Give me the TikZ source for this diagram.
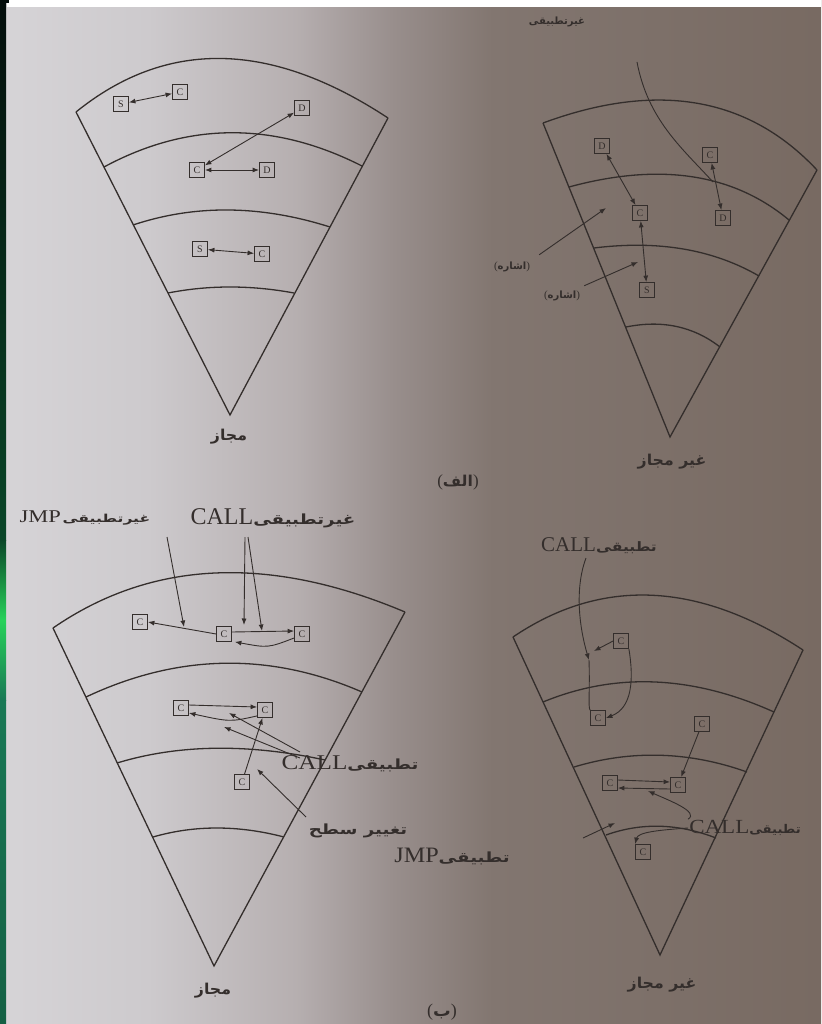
\documentclass[tikz,border=0pt]{standalone}
\usepackage{fontspec}
\usepackage{graphicx}
\usetikzlibrary{arrows.meta,calc}
\TeXXeTstate=1
\newfontfamily\arfont[Script=Arabic]{DejaVu Sans}
\newfontfamily\latfont{Liberation Serif}
% Arabic text at a given size and horizontal stretch
\newcommand\ar[3]{\scalebox{#2}[1]{\arfont\bfseries\fontsize{#1}{#1}\selectfont #3}}
% Latin text at a given size and horizontal stretch
\newcommand\lt[3]{\scalebox{#2}[1]{\latfont\fontsize{#1}{#1}\selectfont #3}}
% ring boundary: quadratic curve from #1 to #3 with control point #2
\newcommand\qarc[3]{\draw[fan] (#1) .. controls ($(#1)!0.6667!(#2)$) and ($(#3)!0.6667!(#2)$) .. (#3);}
\definecolor{ink}{RGB}{52,46,44}
\definecolor{pgA}{RGB}{214,212,215}
\definecolor{pgB}{RGB}{205,202,205}
\definecolor{pgC}{RGB}{182,175,176}
\definecolor{pgD}{RGB}{152,142,140}
\definecolor{pgE}{RGB}{130,118,112}
\definecolor{pgF}{RGB}{120,106,98}
\definecolor{stA}{RGB}{4,14,12}
\definecolor{stB}{RGB}{10,70,40}
\definecolor{stC}{RGB}{40,210,90}
\definecolor{stD}{RGB}{25,120,85}
\pgfdeclarehorizontalshading{pagebg}{100bp}{color(0bp)=(pgA); color(25bp)=(pgA); color(34bp)=(pgB); color(43bp)=(pgC); color(49bp)=(pgD); color(55bp)=(pgE); color(75bp)=(pgF); color(100bp)=(pgF)}
\tikzset{
  fan/.style={draw=ink, line width=1.3pt},
  box/.style={draw=ink, line width=0.8pt, minimum size=15pt, inner sep=0pt,
    font=\latfont\fontsize{10}{10}\selectfont, text=ink},
  link/.style={draw=ink, line width=0.9pt},
  arr/.style={link, -{Latex[length=6.5pt,width=5pt]}},
  both/.style={link, {Latex[length=6.5pt,width=5pt]}-{Latex[length=6.5pt,width=5pt]}},
  lab/.style={text=ink, inner sep=1pt},
}
\begin{document}
\begin{tikzpicture}[x=1pt,y=-1pt]
% page
\useasboundingbox (0,0) rectangle (821,1024);
\shade[shading=pagebg] (0,0) rectangle (821,1024);
\fill[white] (7,0) rectangle (821,7);
\shade[top color=stA, bottom color=stB] (0,0) rectangle (6,540);
\shade[top color=stB, bottom color=stD, middle color=stC] (0,540) rectangle (6,700);
\shade[top color=stD, bottom color=stD!80!black] (0,700) rectangle (6,1024);
\fill[stA] (0,0) rectangle (9,3);

% ---------- fan 1 ----------
\coordinate (f1a) at (230,415);
\coordinate (f1ol) at (76,112);  \coordinate (f1or) at (388,118);
\coordinate (f1l1) at (104,167); \coordinate (f1r1) at (362,166);
\coordinate (f1l2) at (133,225); \coordinate (f1r2) at (330,227);
\coordinate (f1l3) at (168,293); \coordinate (f1r3) at (294,293);
\draw[fan] (f1ol) -- (f1a) -- (f1or);
\qarc{f1ol}{212,2}{f1or}
\qarc{f1l1}{230,99}{f1r1}
\qarc{f1l2}{226,194}{f1r2}
\qarc{f1l3}{229,281}{f1r3}
\node[box] (s1a) at (121,104) {S};
\node[box] (c1a) at (180,92) {C};
\node[box] (d1a) at (302,108) {D};
\node[box] (c1b) at (197,170) {C};
\node[box] (d1b) at (267,170) {D};
\node[box] (s1b) at (200,249) {S};
\node[box] (c1c) at (262,254) {C};
\draw[both] (s1a) -- (c1a);
\draw[both] (c1b) -- (d1a);
\draw[both] (c1b) -- (d1b);
\draw[both] (s1b) -- (c1c);
\node[lab] (n1) at (229,437) {\ar{15}{1.05}{مجاز}};

% ---------- fan 2 ----------
\coordinate (f2a) at (670,437);
\coordinate (f2ol) at (543,123); \coordinate (f2or) at (817,170);
\coordinate (f2l1) at (569,187); \coordinate (f2r1) at (789,220);
\coordinate (f2l2) at (594,248); \coordinate (f2r2) at (759,276);
\coordinate (f2l3) at (626,327); \coordinate (f2r3) at (720,347);
\draw[fan] (f2ol) -- (f2a) -- (f2or);
\qarc{f2ol}{714,60}{f2or}
\qarc{f2l1}{705,150}{f2r1}
\qarc{f2l2}{690,236}{f2r2}
\qarc{f2l3}{680,316}{f2r3}
\node[box] (d2a) at (602,146) {D};
\node[box] (c2a) at (640,213) {C};
\node[box] (s2a) at (647,290) {S};
\node[box] (c2b) at (710,155) {C};
\node[box] (d2b) at (723,218) {D};
\draw[both] (d2a) -- (c2a);
\draw[both] (c2a) -- (s2a);
\draw[both] (c2b) -- (d2b);
\coordinate (t2) at (637,62);
\coordinate (x2) at (713,182);
\draw[link] (t2) .. controls (648,120) and (682,148) .. (x2);
\node[lab] (nc2) at (557,22) {\ar{10}{1}{غیرتطبیقی}};
\node[lab] (p2a) at (512,267) {\lt{11}{1}{(}\ar{10}{1}{اشاره}\lt{11}{1}{)}};
\node[lab] (p2b) at (562,296) {\lt{11}{1}{(}\ar{10}{1}{اشاره}\lt{11}{1}{)}};
\coordinate (q2a) at (606,208);
\coordinate (q2b) at (638,262);
\draw[arr] (p2a.north east) ++(8,-6) -- (q2a);
\draw[arr] (p2b.north east) ++(3,-4) -- (q2b);
\node[lab] (n2) at (672,462) {\ar{15}{1.05}{\beginR غیر مجاز\endR}};
\node[lab] (capA) at (458,482) {\lt{17}{1}{(}\ar{15}{1.05}{الف}\lt{17}{1}{)}};

% ---------- fan 3 ----------
\coordinate (f3a) at (214,966);
\coordinate (f3ol) at (53,628);  \coordinate (f3or) at (405,612);
\coordinate (f3l1) at (86,697);  \coordinate (f3r1) at (362,692);
\coordinate (f3l2) at (117,763); \coordinate (f3r2) at (325,760);
\coordinate (f3l3) at (153,837); \coordinate (f3r3) at (284,837);
\draw[fan] (f3ol) -- (f3a) -- (f3or);
\qarc{f3ol}{201,526}{f3or}
\qarc{f3l1}{224,632}{f3r1}
\qarc{f3l2}{209,735}{f3r2}
\qarc{f3l3}{215,819}{f3r3}
\node[box] (c3a) at (140,622) {C};
\node[box] (c3b) at (224,634) {C};
\node[box] (c3c) at (302,634) {C};
\node[box] (c3d) at (181,708) {C};
\node[box] (c3e) at (265,710) {C};
\node[box] (c3f) at (242,782) {C};
% outer ring
\draw[arr] (c3b.west) -- (c3a.east);
\draw[arr] ($(c3b.east)+(0,-2)$) -- ($(c3c.west)+(0,-3)$);
\draw[arr] ($(c3c.west)+(0,4)$) .. controls (268,648) .. ($(c3b.south east)+(3,0)$);
\node[lab] (jmp3) at (85,518) {\lt{18}{1.25}{JMP}\,\ar{11}{1.42}{غیرتطبیقی}};
\node[lab] (call3) at (273,518) {\lt{24}{1}{CALL}\ar{14}{1.3}{غیرتطبیقی}};
\coordinate (j3) at (184,627);
\coordinate (k3a) at (244,625);
\coordinate (k3b) at (262,631);
\draw[arr] (167,537) -- (j3);
\draw[arr] (245,537) -- (k3a);
\draw[arr] (248,537) -- (k3b);
% second ring
\draw[arr] ($(c3d.east)+(0,-3)$) -- ($(c3e.west)+(0,-3)$);
\draw[arr] ($(c3e.south west)+(0,-2)$) .. controls (230,722) .. ($(c3d.east)+(0,5)$);
\node[lab] (call3b) at (350,764) {\lt{21}{1.2}{CALL}\ar{14}{1.3}{تطبیقی}};
\draw[arr] (300,752) -- (229,713);
\draw[arr] (300,758) -- (224,727);
\draw[arr] (c3f) -- (c3e);
\node[lab] (lvl3) at (358,831) {\ar{14}{1.3}{\beginR تغییر سطح\endR}};
\coordinate (v3) at (257,769);
\draw[arr] (306,817) -- (v3);
\node[lab] (jmp3b) at (452,857) {\lt{22}{1.1}{JMP}\ar{14}{1.3}{تطبیقی}};
\node[lab] (n3) at (213,991) {\ar{15}{1.05}{مجاز}};

% ---------- fan 4 ----------
\coordinate (f4a) at (660,955);
\coordinate (f4ol) at (513,637); \coordinate (f4or) at (803,650);
\coordinate (f4l1) at (543,702); \coordinate (f4r1) at (774,712);
\coordinate (f4l2) at (574,767); \coordinate (f4r2) at (747,772);
\coordinate (f4l3) at (606,835); \coordinate (f4r3) at (716,838);
\draw[fan] (f4ol) -- (f4a) -- (f4or);
\qarc{f4ol}{646,547}{f4or}
\qarc{f4l1}{652,657}{f4r1}
\qarc{f4l2}{660,741}{f4r2}
\qarc{f4l3}{659,816}{f4r3}
\node[box] (c4a) at (621,641) {C};
\node[box] (c4b) at (598,718) {C};
\node[box] (c4c) at (702,724) {C};
\node[box] (c4d) at (610,783) {C};
\node[box] (c4e) at (678,785) {C};
\node[box] (c4f) at (643,852) {C};
\node[lab] (call4) at (599,546) {\lt{21}{1}{CALL}\ar{13}{1.2}{تطبیقی}};
\coordinate (m4) at (589,660);
\draw[arr] (586,558) .. controls (574,590) and (580,630) .. (m4);
\draw[link] (m4) .. controls (590,690) and (588,708) .. (c4b.north west);
\draw[arr] (c4a.west) -- (594,651);
\draw[arr] (c4a.south east) .. controls (634,680) and (632,708) .. (c4b.east);
\draw[arr] (c4c) -- (c4e);
\draw[arr] ($(c4d.east)+(0,-3)$) -- ($(c4e.west)+(0,-3)$);
\draw[arr] ($(c4e.west)+(0,4)$) -- ($(c4d.east)+(0,5)$);
\node[lab] (call4b) at (745,828) {\lt{20}{1.15}{CALL}\ar{12}{1.1}{تطبیقی}};
\draw[arr] (call4b.north west) .. controls (700,812) and (668,800) .. (648,791);
\draw[arr] (call4b.west) .. controls (660,830) and (638,832) .. (c4f.north west);
\coordinate (e4) at (583,838);
\draw[arr] (e4) -- (615,823);
\node[lab] (n4) at (662,985) {\ar{15}{1.05}{\beginR غیر مجاز\endR}};
\node[lab] (capB) at (442,1012) {\lt{18}{1}{(}\ar{16}{1.1}{ب}\lt{18}{1}{)}};
\end{tikzpicture}
\end{document}
